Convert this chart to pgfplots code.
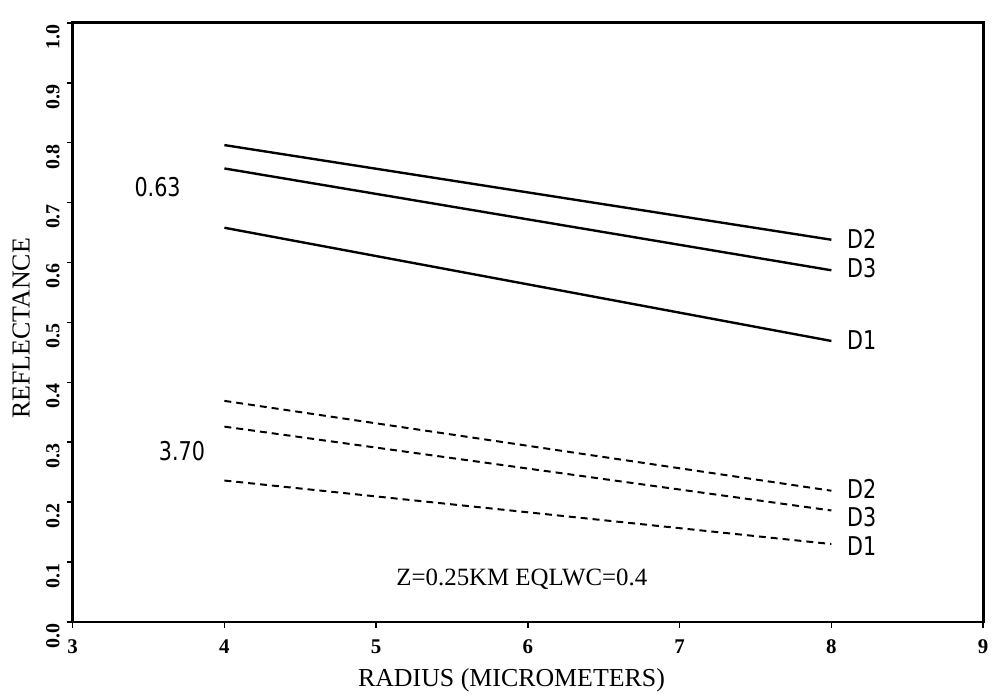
\documentclass[border=0pt]{standalone}
\usepackage{fontspec}
\setmainfont{Liberation Serif}
\newfontfamily\annot[FakeStretch=0.8]{DejaVu Sans}
\usepackage{pgfplots}
\pgfplotsset{compat=1.18}
\begin{document}
\begin{tikzpicture}
\begin{axis}[
  at={(0,0)}, anchor=south west,
  scale only axis,
  width=457.5pt, height=301pt,
  xmin=3, xmax=9, ymin=0, ymax=1.0,
  xtick={3,4,5,6,7,8,9},
  ytick={0,0.1,0.2,0.3,0.4,0.5,0.6,0.7,0.8,0.9,1.0},
  xtick pos=bottom, ytick pos=left,
  /pgf/number format/assume math mode=true,
  yticklabel style={rotate=90, anchor=south, xshift=-7pt, font=\bfseries\fontsize{10}{11}\selectfont, /pgf/number format/.cd, fixed, fixed zerofill, precision=1},
  xticklabel style={yshift=-2.5pt, font=\bfseries\fontsize{10.5}{11}\selectfont},
  tick align=outside,
  major tick length=3pt,
  tick style={line width=0.8pt, black},
  axis line style={line width=1.4pt},
  xlabel={RADIUS (MICROMETERS)},
  ylabel={REFLECTANCE},
  label style={font=\fontsize{13}{15}\selectfont},
  xlabel style={at={(axis description cs:0.482,0)}, anchor=north, yshift=-20pt},
  ylabel style={at={(axis description cs:0,0.49)}, anchor=south, yshift=18pt},
  clip=false,
]
% 0.63 um, solid
\addplot[black, line width=1.2pt] coordinates {(4,0.796) (8,0.638)};
\addplot[black, line width=1.2pt] coordinates {(4,0.757) (8,0.587)};
\addplot[black, line width=1.2pt] coordinates {(4,0.658) (8,0.469)};
% 3.70 um, dashed
\addplot[black, line width=1pt, dash pattern=on 3.5pt off 2.5pt] coordinates {(4,0.369) (8,0.219)};
\addplot[black, line width=1pt, dash pattern=on 3.5pt off 2.5pt] coordinates {(4,0.326) (8,0.186)};
\addplot[black, line width=1pt, dash pattern=on 3.5pt off 2.5pt] coordinates {(4,0.236) (8,0.130)};
\node[font=\annot\fontsize{13}{14}\selectfont] at (axis cs:3.56,0.726) {0.63};
\node[font=\annot\fontsize{13}{14}\selectfont] at (axis cs:3.72,0.285) {3.70};
\node[font=\annot\fontsize{13}{14}\selectfont] at (axis cs:8.2,0.640) {D2};
\node[font=\annot\fontsize{13}{14}\selectfont] at (axis cs:8.2,0.590) {D3};
\node[font=\annot\fontsize{13}{14}\selectfont] at (axis cs:8.2,0.470) {D1};
\node[font=\annot\fontsize{13}{14}\selectfont] at (axis cs:8.2,0.222) {D2};
\node[font=\annot\fontsize{13}{14}\selectfont] at (axis cs:8.2,0.175) {D3};
\node[font=\annot\fontsize{13}{14}\selectfont] at (axis cs:8.2,0.127) {D1};
\node[font=\fontsize{12.5}{14}\selectfont] at (axis cs:5.96,0.072) {Z=0.25KM EQLWC=0.4};
\end{axis}
\useasboundingbox (-36.5pt,-36.5pt) rectangle (461pt,312.5pt);
\end{tikzpicture}
\end{document}
